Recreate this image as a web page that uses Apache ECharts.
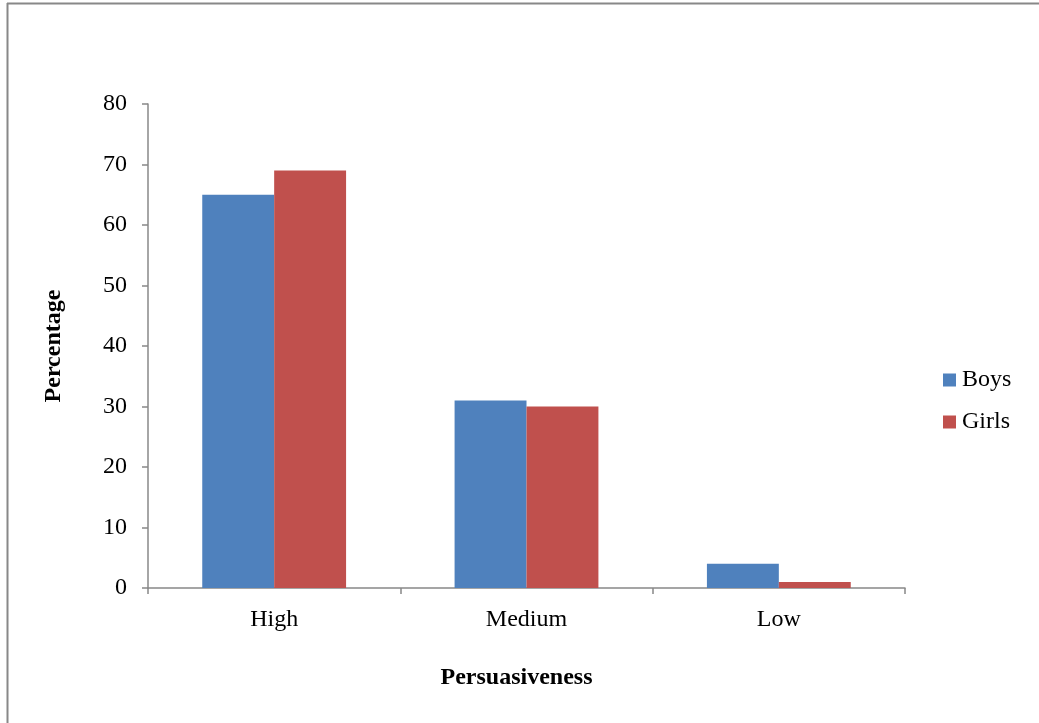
<!DOCTYPE html>
<html>
<head>
<meta charset="utf-8">
<script src="https://cdn.jsdelivr.net/npm/echarts@6/dist/echarts.min.js"></script>
<style>
html,body{margin:0;padding:0;background:#fff;}
#chart{width:1039px;height:723px;}
</style>
</head>
<body>
<div id="chart"></div>
<script>
const categories = ['High', 'Medium', 'Low'];
const boys = [65, 31, 4];
const girls = [69, 30, 1];
const yTicks = [0, 10, 20, 30, 40, 50, 60, 70, 80];

const FONT = '"Liberation Serif", "Times New Roman", serif';
const chart = echarts.init(document.getElementById('chart'));
chart.setOption({
  animation: false,
  backgroundColor: '#fff',
  textStyle: { fontFamily: FONT, color: '#000' },
  graphic: [
    { type: 'line', shape: { x1: 7.5, y1: 3, x2: 7.5, y2: 723 }, style: { stroke: '#888', lineWidth: 2 } },
    { type: 'line', shape: { x1: 7, y1: 3.5, x2: 1039, y2: 3.5 }, style: { stroke: '#888', lineWidth: 2 } }
  ],
  grid: { left: 148, top: 104, right: 134, bottom: 135, containLabel: false },
  legend: {
    orient: 'vertical',
    left: 938,
    top: 363,
    itemWidth: 13,
    itemHeight: 13,
    itemGap: 18,
    icon: 'rect',
    textStyle: { fontFamily: FONT, fontSize: 24, color: '#000', padding: [0, 0, 0, 1] },
    data: ['Boys', 'Girls']
  },
  xAxis: {
    type: 'category',
    data: categories,
    name: 'Persuasiveness',
    nameLocation: 'middle',
    nameGap: 78,
    nameTextStyle: { fontFamily: FONT, fontSize: 24, fontWeight: 'bold', color: '#000', padding: [0, 20, 0, 0] },
    axisLine: { lineStyle: { color: '#888', width: 1.5 } },
    axisTick: { show: true, inside: false, length: 6, alignWithLabel: false, lineStyle: { color: '#888', width: 1.5 } },
    axisLabel: { fontFamily: FONT, fontSize: 24, color: '#000', margin: 20 }
  },
  yAxis: {
    type: 'value',
    min: 0,
    max: 80,
    interval: 10,
    name: 'Percentage',
    nameLocation: 'middle',
    nameGap: 82,
    nameTextStyle: { fontFamily: FONT, fontSize: 24, fontWeight: 'bold', color: '#000' },
    axisLine: { show: true, lineStyle: { color: '#888', width: 1.5 } },
    axisTick: { show: true, inside: false, length: 6, lineStyle: { color: '#888', width: 1.5 } },
    splitLine: { show: false },
    axisLabel: {
      fontFamily: FONT, fontSize: 24, color: '#000', margin: 21,
      formatter: function (v) { return yTicks.indexOf(v) >= 0 ? String(v) : ''; }
    }
  },
  series: [
    { name: 'Boys', type: 'bar', data: boys, itemStyle: { color: '#4F81BD' }, barGap: '0%', barCategoryGap: '43%' },
    { name: 'Girls', type: 'bar', data: girls, itemStyle: { color: '#C0504D' }, barGap: '0%', barCategoryGap: '43%' }
  ]
});
</script>
</body>
</html>
